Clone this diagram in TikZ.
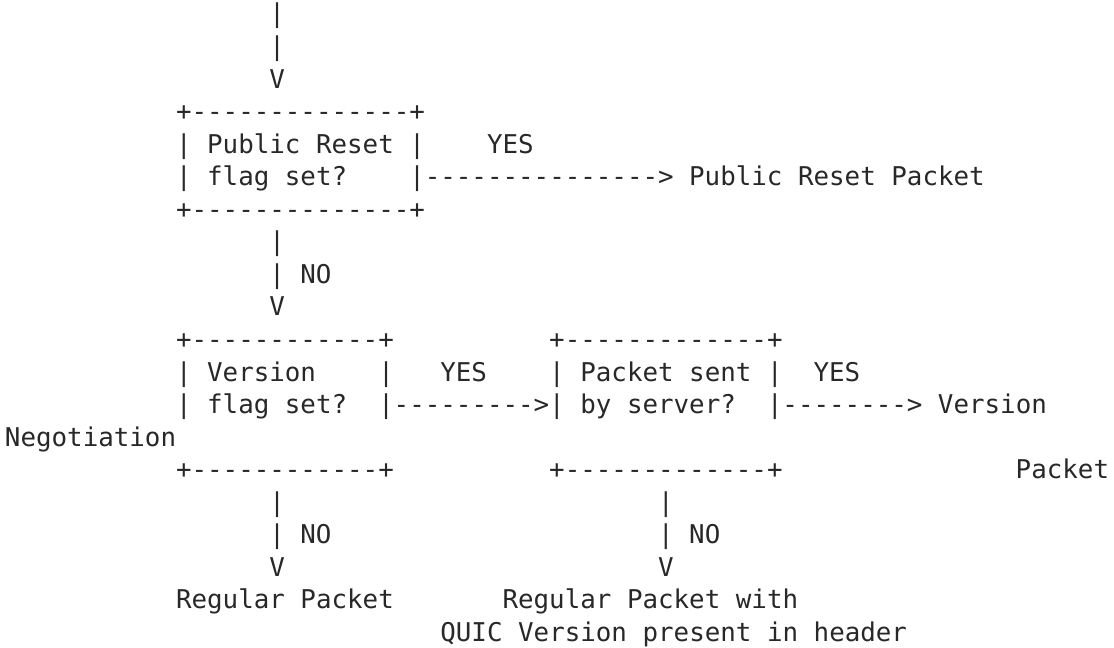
\documentclass[tikz,border=0pt]{standalone}
\usepackage{fontspec}
\setmonofont{DejaVu Sans Mono}[Ligatures=TeXOff]
\usepackage{xcolor}
\definecolor{inkgray}{RGB}{40,40,40}
\tikzset{ascii/.style={anchor=base west,inner sep=0pt,outer sep=0pt,text=inkgray,
    font=\ttfamily\fontsize{12.92pt}{16.3pt}\selectfont}}

\begin{document}
\begin{tikzpicture}[x=7.775pt,y=-16.275pt]
   \useasboundingbox (-0.32,0.2934) rectangle (71.32,20.2014);
   % incoming line
   \node[ascii] (inA) at (17,1) {|};
   \node[ascii] (inB) at (17,2) {|};
   \node[ascii] (inV) at (17,3) {V};
   % public reset check
   \node[ascii] (resetTop) at (11,4) {+--------------+};
   \node[ascii] (resetL1) at (11,5) {| Public Reset |};
   \node[ascii] (resetYes) at (31,5) {YES};
   \node[ascii] (resetL2) at (11,6) {| flag set?~~~~|};
   \node[ascii] (resetArrow) at (27,6) {--------------->};
   \node[ascii] (resetPkt) at (44,6) {Public Reset Packet};
   \node[ascii] (resetBot) at (11,7) {+--------------+};
   \node[ascii] (noA) at (17,8) {|};
   \node[ascii] (noA2) at (17,9) {| NO};
   \node[ascii] (noAV) at (17,10) {V};
   % version check
   \node[ascii] (verTop) at (11,11) {+------------+};
   \node[ascii] (verL1) at (11,12) {| Version~~~~|};
   \node[ascii] (verYes) at (28,12) {YES};
   \node[ascii] (verL2) at (11,13) {| flag set?~~|};
   \node[ascii] (verArrow) at (25,13) {--------->};
   \node[ascii] (verBot) at (11,15) {+------------+};
   % server check
   \node[ascii] (srvTop) at (35,11) {+-------------+};
   \node[ascii] (srvL1) at (35,12) {| Packet sent |};
   \node[ascii] (srvYes) at (52,12) {YES};
   \node[ascii] (srvL2) at (35,13) {| by server?~~|};
   \node[ascii] (srvArrow) at (50,13) {-------->};
   \node[ascii] (negA) at (60,13) {Version};
   \node[ascii] (negB) at (0,14) {Negotiation};
   \node[ascii] (srvBot) at (35,15) {+-------------+};
   \node[ascii] (negC) at (65,15) {Packet};
   % outcomes
   \node[ascii] (noB) at (17,16) {|};
   \node[ascii] (noB2) at (17,17) {| NO};
   \node[ascii] (noBV) at (17,18) {V};
   \node[ascii] (noC) at (42,16) {|};
   \node[ascii] (noC2) at (42,17) {| NO};
   \node[ascii] (noCV) at (42,18) {V};
   \node[ascii] (regPkt) at (11,19) {Regular Packet};
   \node[ascii] (quicPkt) at (32,19) {Regular Packet with};
   \node[ascii] (quicPkt2) at (28,20) {QUIC Version present in header};
\end{tikzpicture}
\end{document}
